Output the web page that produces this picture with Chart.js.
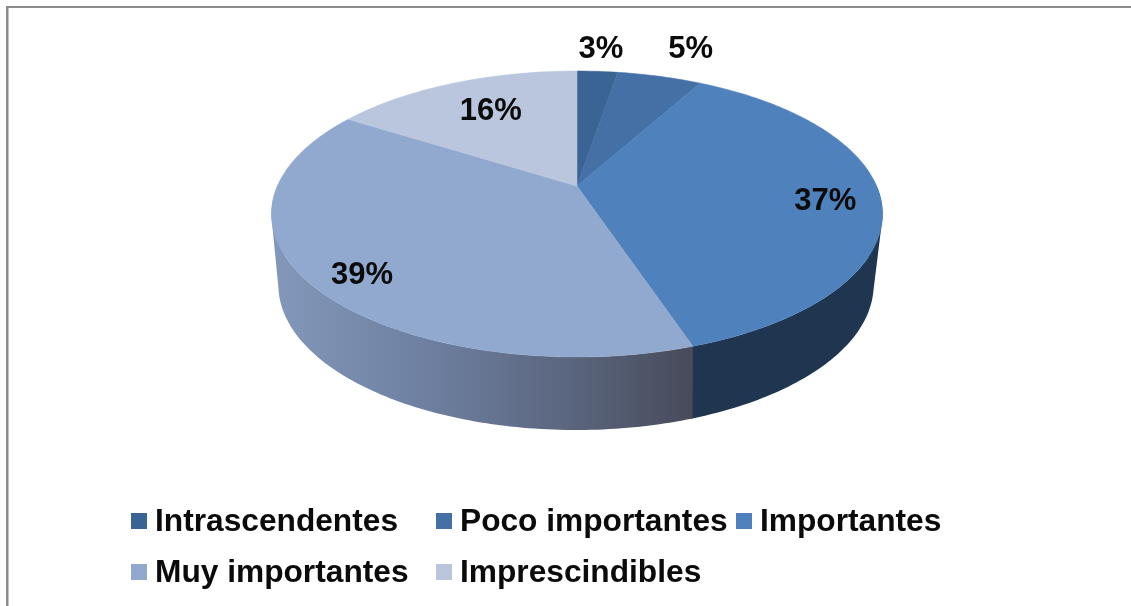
<!DOCTYPE html>
<html lang="es">
<head>
<meta charset="utf-8">
<title>Pie</title>
<script src="https://cdn.jsdelivr.net/npm/chart.js@4/dist/chart.umd.min.js"></script>
<style>
    html, body { margin: 0; padding: 0; background: #fff; overflow: hidden; }
    #grafica { display: block; filter: blur(0.4px); }
</style>
</head>
<body>
<canvas id="grafica" width="1131" height="606"></canvas>
<script>
const categorias = ['Intrascendentes', 'Poco importantes', 'Importantes', 'Muy importantes', 'Imprescindibles'];
const valores = [2.6, 5.4, 36.9, 39.1, 16];
const colores = ['#3a6494', '#4470a6', '#4f81bd', '#92a9cf', '#b9c6de'];

// tilted disc: the apex sits above the middle of the ellipse, as in the picture
const disco = { cx: 577, cy: 186, ax: 299.6, ay: 137.5, k: 0.1958 };
const discoBase = { cx: 576, cy: 251.8, ax: 289.7, ay: 137.4, k: 0.229 };
const fuenteEtiqueta = 'bold 31px "Liberation Sans", Arial, sans-serif';
const fuenteLeyenda = 'bold 31.7px "Liberation Sans", Arial, sans-serif';

const proyectar = (angulo, r, d) => {
    const u = Math.cos(angulo) * r;
    const v = Math.sin(angulo) * r;
    const w = 1 - d.k * v;
    return { x: d.cx + d.ax * u / w, y: d.cy + d.ay * v / w, v: v };
};

const borde = (arco, d, extra = 0) => {
    const puntos = [];
    const fin = arco.endAngle + extra;
    const pasos = Math.max(8, Math.ceil((fin - arco.startAngle) * 60));
    for (let i = 0; i <= pasos; i++) {
        puntos.push(proyectar(arco.startAngle + (fin - arco.startAngle) * i / pasos, 1, d));
    }
    return puntos;
};

// every quad goes the same way round, otherwise overlaps cancel out when filled as one path
const agregarCuadro = (ctx, q) => {
    let area = 0;
    q.forEach((p, i) => {
        const s = q[(i + 1) % 4];
        area += p.x * s.y - s.x * p.y;
    });
    const orden = area < 0 ? q.slice().reverse() : q;
    orden.forEach((p, i) => i ? ctx.lineTo(p.x, p.y) : ctx.moveTo(p.x, p.y));
    ctx.closePath();
};

const colorLateral = (ctx, i) => {
    if (i == 3) {
        const g = ctx.createLinearGradient(271, 0, 693, 0);
        g.addColorStop(0, '#8398bb');
        g.addColorStop(0.35, '#6f81a2');
        g.addColorStop(0.7, '#5b667f');
        g.addColorStop(1, '#474b5a');
        return g;
    }
    return ['#1f3450', '#24395a', '#1f3550', '#5a6a85', '#6d7d98'][i];
};

const pastel3d = {
    id: 'pastel3d',
    beforeDraw(chart) {
        const ctx = chart.ctx;
        ctx.save();
        ctx.fillStyle = '#fff';
        ctx.fillRect(0, 0, 1131, 606);
        ctx.fillStyle = '#8c8c8c';
        ctx.fillRect(6, 6, 1125, 2);
        ctx.fillRect(6, 6, 2, 600);
        ctx.fillStyle = '#c4c4c4';
        ctx.fillRect(8, 8, 1, 598);
        ctx.restore();
    },
    beforeDatasetDraw(chart, args) {
        const ctx = chart.ctx;
        const arcos = args.meta.data;
        ctx.save();
        // walls first, only the front half of the rim shows
        arcos.forEach((arco, i) => {
            const arriba = borde(arco, disco, 0.01);
            const abajo = borde(arco, discoBase, 0.01);
            ctx.fillStyle = colorLateral(ctx, i);
            ctx.beginPath();
            for (let j = 0; j < arriba.length - 1; j++) {
                if (arriba[j].v < 0 && arriba[j + 1].v < 0) continue;
                agregarCuadro(ctx, [arriba[j], arriba[j + 1], abajo[j + 1], abajo[j]]);
            }
            ctx.fill();
        });
        arcos.forEach((arco, i) => {
            ctx.fillStyle = colores[i];
            ctx.strokeStyle = colores[i];
            ctx.lineWidth = 0.5;
            ctx.beginPath();
            ctx.moveTo(disco.cx, disco.cy);
            borde(arco, disco).forEach(p => ctx.lineTo(p.x, p.y));
            ctx.closePath();
            ctx.fill();
            ctx.stroke();
        });
        ctx.restore();
        return false;
    },
    afterDatasetsDraw(chart, args, opts) {
        const ctx = chart.ctx;
        const arcos = chart.getDatasetMeta(0).data;
        ctx.save();
        ctx.font = fuenteEtiqueta;
        ctx.fillStyle = '#0b0b0b';
        ctx.textAlign = 'center';
        ctx.textBaseline = 'middle';
        arcos.forEach((arco, i) => {
            const p = proyectar((arco.startAngle + arco.endAngle) / 2, opts.radioEtiqueta[i], disco);
            ctx.fillText(Math.round(valores[i]) + '%', p.x + opts.ajusteX[i], p.y + opts.ajusteY[i]);
        });
        // legend in aligned columns, the built in one centres its rows
        ctx.font = fuenteLeyenda;
        ctx.textAlign = 'left';
        categorias.forEach((nombre, i) => {
            const x = opts.leyendaX[i % 3];
            const y = opts.leyendaY[i > 2 ? 1 : 0];
            ctx.fillStyle = colores[i];
            ctx.fillRect(x, y - 8, 16, 16);
            ctx.fillStyle = '#0b0b0b';
            ctx.fillText(nombre, x + 24, y + 1);
        });
        ctx.restore();
    }
};

new Chart(document.getElementById('grafica'), {
    type: 'pie',
    data: {
        labels: categorias,
        datasets: [{ data: valores, backgroundColor: colores, borderWidth: 0 }]
    },
    options: {
        responsive: false,
        animation: false,
        plugins: {
            legend: { display: false },
            tooltip: { enabled: false },
            pastel3d: {
                radioEtiqueta: [1.265, 1.333, 0.82, 0.82, 0.717],
                ajusteX: [-1, 9, 0, 0, 6],
                ajusteY: [2, 2, 5, 12, 2],
                leyendaX: [131, 436, 736],
                leyendaY: [521, 572]
            }
        }
    },
    plugins: [pastel3d]
});
</script>
</body>
</html>
